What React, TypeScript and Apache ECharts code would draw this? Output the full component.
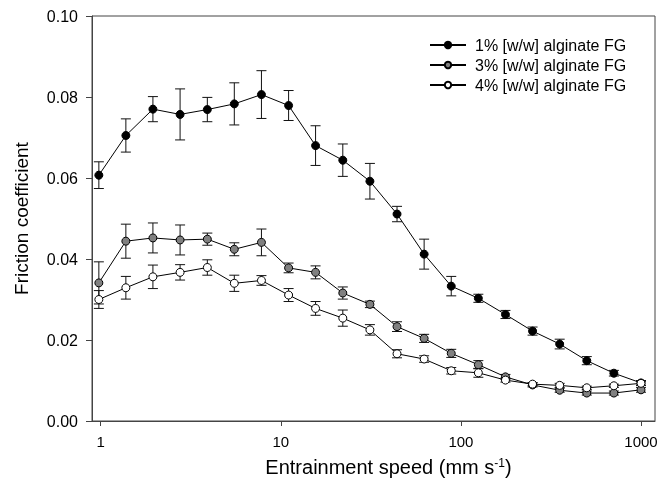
import React, { useEffect, useRef } from 'react';
import * as echarts from 'echarts';

const speeds = [0.977, 1.38, 1.95, 2.76, 3.91, 5.52, 7.81, 11.05, 15.6, 22.1, 31.25, 44.2, 62.5, 88.4, 125, 176.8, 250, 353.6, 500, 707.1, 1000];

const seriesNames = ['1% [w/w] alginate FG', '3% [w/w] alginate FG', '4% [w/w] alginate FG'];

const mean1 = [0.0607, 0.0705, 0.0770, 0.0757, 0.0769, 0.0783, 0.0806, 0.0779, 0.0680, 0.0644, 0.0592, 0.0511, 0.0412, 0.0333, 0.0303, 0.0263, 0.0222, 0.0190, 0.0149, 0.0118, 0.0094];
const err1 = [0.0033, 0.0041, 0.0031, 0.0063, 0.0030, 0.0052, 0.0059, 0.0037, 0.0049, 0.0040, 0.0044, 0.0019, 0.0037, 0.0024, 0.0010, 0.0010, 0.0010, 0.0012, 0.0010, 0.0007, 0.0006];

const mean3 = [0.0341, 0.0444, 0.0452, 0.0447, 0.0449, 0.0424, 0.0441, 0.0378, 0.0367, 0.0316, 0.0288, 0.0233, 0.0204, 0.0167, 0.0139, 0.0109, 0.0089, 0.0076, 0.0069, 0.0069, 0.0077];
const err3 = [0.0052, 0.0042, 0.0037, 0.0037, 0.0015, 0.0016, 0.0033, 0.0012, 0.0016, 0.0015, 0.0008, 0.0012, 0.0010, 0.0010, 0.0010, 0.0006, 0.0005, 0.0005, 0.0005, 0.0005, 0.0006];

const mean4 = [0.0300, 0.0329, 0.0356, 0.0367, 0.0379, 0.0340, 0.0347, 0.0311, 0.0278, 0.0254, 0.0225, 0.0166, 0.0153, 0.0124, 0.0119, 0.0101, 0.0091, 0.0088, 0.0082, 0.0087, 0.0093];
const err4 = [0.0022, 0.0028, 0.0029, 0.0019, 0.0019, 0.0020, 0.0012, 0.0016, 0.0017, 0.0020, 0.0013, 0.0010, 0.0008, 0.0008, 0.0011, 0.0005, 0.0004, 0.0005, 0.0004, 0.0004, 0.0005];

const xTicks = [1, 10, 100, 1000];
const yTicks = [0, 0.02, 0.04, 0.06, 0.08, 0.1];

const fills = ['#000000', '#808080', '#ffffff'];
const FONT = '"Liberation Sans", Arial, Helvetica, sans-serif';

export default function App() {
  const ref = useRef<HTMLDivElement>(null);
  useEffect(() => {
    const chart = echarts.init(ref.current!, null, { renderer: 'svg' });
    const means = [mean1, mean3, mean4];
    const errs = [err1, err3, err4];

    const errSeries = means.map((m, k) => ({
      type: 'custom',
      name: 'err' + k,
      z: 1,
      silent: true,
      encode: { x: 0, y: [1, 2] },
      data: speeds.map((s, i) => [s, m[i] - errs[k][i], m[i] + errs[k][i]]),
      renderItem: (params: any, api: any) => {
        const x = api.value(0);
        const lo = api.coord([x, api.value(1)]);
        const hi = api.coord([x, api.value(2)]);
        const hw = 5;
        const st = { stroke: '#111', lineWidth: 1 };
        return {
          type: 'group',
          children: [
            { type: 'line', shape: { x1: lo[0], y1: lo[1], x2: hi[0], y2: hi[1] }, style: st },
            { type: 'line', shape: { x1: lo[0] - hw, y1: lo[1], x2: lo[0] + hw, y2: lo[1] }, style: st },
            { type: 'line', shape: { x1: hi[0] - hw, y1: hi[1], x2: hi[0] + hw, y2: hi[1] }, style: st },
          ],
        };
      },
    }));

    const lineSeries = means.map((m, k) => ({
      type: 'line',
      name: seriesNames[k],
      z: 2 + k,
      symbol: 'circle',
      symbolSize: 8,
      data: speeds.map((s, i) => [s, m[i]]),
      lineStyle: { color: '#000', width: 1 },
      itemStyle: { color: fills[k], borderColor: '#000', borderWidth: 1 },
    }));

    chart.setOption({
      animation: false,
      textStyle: { fontFamily: FONT, color: '#000' },
      grid: {
        left: 92,
        right: 15,
        top: 16,
        bottom: 70,
        show: true,
        borderColor: '#444',
        borderWidth: 1,
        containLabel: false,
        outerBoundsMode: 'none',
      },
      legend: {
        data: seriesNames,
        orient: 'vertical',
        left: 424,
        top: 32,
        itemWidth: 36,
        itemHeight: 8,
        itemGap: 4,
        textStyle: { fontSize: 16, color: '#000', fontFamily: FONT, lineHeight: 16, padding: [0, 0, 0, 4] },
        selectedMode: false,
      },
      xAxis: {
        type: 'log',
        logBase: 10,
        min: 0.895,
        max: 1196,
        name: 'Entrainment speed (mm s{sup|-1})',
        nameLocation: 'middle',
        nameGap: 36,
        nameTextStyle: {
          fontSize: 20,
          color: '#000',
          fontFamily: FONT,
          padding: [0, 0, 0, 30],
          rich: { sup: { fontSize: 12, verticalAlign: 'top', lineHeight: 20, fontFamily: FONT, color: '#000' } },
        },
        axisLine: { show: true, lineStyle: { color: '#444', width: 1 } },
        axisTick: { show: true, inside: false, length: 5, lineStyle: { color: '#444' }, customValues: xTicks },
        axisLabel: {
          fontSize: 15,
          color: '#000',
          margin: 13,
          customValues: xTicks,
          formatter: (v: number) => String(Math.round(v)),
        },
        minorTick: { show: false },
        splitLine: { show: false },
      },
      yAxis: {
        type: 'value',
        min: 0,
        max: 0.1,
        interval: 0.02,
        name: 'Friction coefficient',
        nameLocation: 'middle',
        nameGap: 61,
        nameTextStyle: { fontSize: 19, color: '#000', fontFamily: FONT },
        axisLine: { show: true, lineStyle: { color: '#444', width: 1 } },
        axisTick: { show: true, inside: false, length: 6, lineStyle: { color: '#444' }, customValues: yTicks },
        axisLabel: {
          fontSize: 16,
          color: '#000',
          margin: 14,
          customValues: yTicks,
          formatter: (v: number) => v.toFixed(2),
        },
        splitLine: { show: false },
      },
      series: [...errSeries, ...lineSeries],
    });
    return () => chart.dispose();
  }, []);
  return <div ref={ref} style={{ position: 'fixed', left: 0, top: 0, width: 670, height: 491 }} />;
}
